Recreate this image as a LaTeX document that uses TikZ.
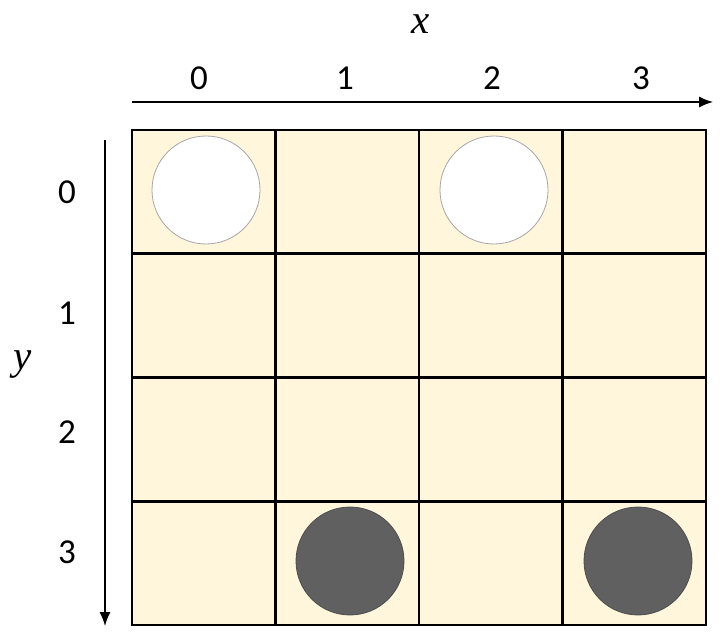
\documentclass[tikz,border=0pt]{standalone}
\usepackage{fontspec}
\setmainfont{Carlito}
\newfontfamily\varfont{Liberation Serif}
\usetikzlibrary{arrows.meta}
\definecolor{boardcream}{HTML}{FFF6DC}
\definecolor{stonedark}{HTML}{606060}

\begin{document}
\begin{tikzpicture}[
    x=1pt, y=-1pt,
    cell/.style={draw=black, line width=2.8pt, fill=boardcream},
    whitestone/.style={circle, draw=black!35, fill=white, line width=0.8pt,
                minimum size=108pt, inner sep=0pt},
    darkstone/.style={circle, draw=black!70, fill=stonedark, line width=0.8pt,
                minimum size=108pt, inner sep=0pt},
    axis/.style={-{Latex[length=14pt, width=11pt]}, line width=1.3pt},
    ticklabel/.style={font=\fontsize{35}{40}\selectfont},
    axislabel/.style={font=\fontsize{41}{44}\selectfont\varfont\itshape,
                inner sep=0pt, anchor=base}
]
\useasboundingbox (0,0) rectangle (724,639);

%% BOARD
\foreach \c in {0,...,3}
  \foreach \r in {0,...,3}
    \draw[cell] ({132+143.5*\c},{130+123.75*\r}) rectangle +(143.5,123.75);

%% STONES
\node[whitestone] (white_a) at (206,190) {};
\node[whitestone] (white_b) at (494,190) {};
\node[darkstone]  (dark_a)  at (350,561) {};
\node[darkstone]  (dark_b)  at (638,561) {};

%% AXES
\coordinate (x_start) at (132,102);
\coordinate (x_end)   at (713,102);
\coordinate (y_start) at (105,140);
\coordinate (y_end)   at (105,626);

\draw[axis] (x_start) -- (x_end);
\draw[axis] (y_start) -- (y_end);

\node[axislabel] (x_label) at (421,34)  {x};
\node[axislabel] (y_label) at (23,370) {y};

\foreach \n/\px in {0/199, 1/345, 2/492, 3/641}
  \node[ticklabel] (xtick\n) at (\px,78) {\n};
\foreach \n/\py in {0/192, 1/313, 2/432, 3/552}
  \node[ticklabel] (ytick\n) at (67,\py) {\n};

\end{tikzpicture}
\end{document}
